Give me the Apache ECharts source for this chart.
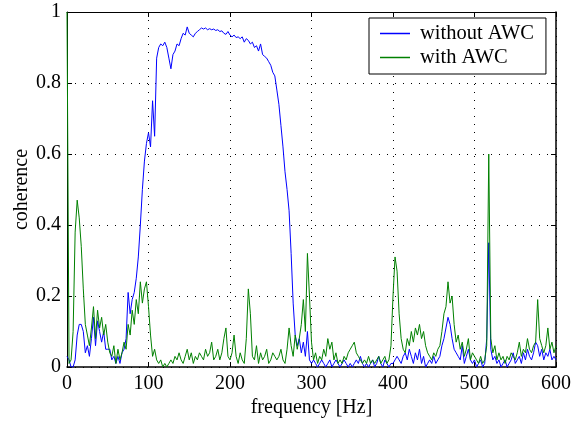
<!DOCTYPE html>
<html>
<head>
<meta charset="utf-8">
<script src="https://cdn.jsdelivr.net/npm/echarts@6/dist/echarts.min.js"></script>
<style>
  html, body { margin: 0; padding: 0; background: #fff; }
  #chart { width: 576px; height: 421px; }
</style>
</head>
<body>
<div id="chart"></div>
<script>
// Coherence spectra sampled every 2.5 Hz from 0 to 600 Hz
const STEP = 2.5;
const xTicks = [0, 100, 200, 300, 400, 500, 600];
const yTicks = [0, 0.2, 0.4, 0.6, 0.8, 1];
const seriesNames = ['without AWC', 'with AWC'];

// without AWC (one row = 25 Hz)
const withoutAWC = [
  0.03, 0.02, 0.00, 0.00, 0.02, 0.09, 0.12, 0.12, 0.10, 0.04,
  0.06, 0.03, 0.08, 0.14, 0.06, 0.13, 0.10, 0.07, 0.10, 0.05,
  0.05, 0.05, 0.02, 0.03, 0.01, 0.03, 0.01, 0.04, 0.05, 0.08,
  0.21, 0.15, 0.19, 0.21, 0.25, 0.31, 0.40, 0.50, 0.58, 0.63,
  0.66, 0.62, 0.75, 0.65, 0.87, 0.90, 0.91, 0.905, 0.915, 0.90,
  0.87, 0.84, 0.88, 0.89, 0.91, 0.905, 0.925, 0.94, 0.935, 0.958,
  0.94, 0.935, 0.93, 0.94, 0.945, 0.95, 0.955, 0.952, 0.955, 0.95,
  0.953, 0.95, 0.952, 0.948, 0.95, 0.945, 0.947, 0.94, 0.937, 0.945,
  0.935, 0.93, 0.935, 0.928, 0.93, 0.925, 0.93, 0.915, 0.925, 0.92,
  0.91, 0.915, 0.90, 0.905, 0.89, 0.91, 0.88, 0.875, 0.87, 0.86,
  0.85, 0.83, 0.82, 0.78, 0.74, 0.68, 0.62, 0.55, 0.50, 0.44,
  0.32, 0.18, 0.09, 0.06, 0.08, 0.04, 0.07, 0.03, 0.10, 0.02,
  0.01, 0.02, 0.01, 0.00, 0.01, 0.02, 0.01, 0.00, 0.01, 0.02,
  0.00, 0.01, 0.02, 0.01, 0.00, 0.01, 0.02, 0.01, 0.00, 0.01,
  0.00, 0.01, 0.02, 0.01, 0.03, 0.01, 0.00, 0.01, 0.00, 0.01,
  0.02, 0.00, 0.01, 0.03, 0.01, 0.00, 0.02, 0.01, 0.00, 0.01,
  0.01, 0.02, 0.03, 0.02, 0.01, 0.03, 0.04, 0.02, 0.05, 0.03,
  0.01, 0.04, 0.02, 0.05, 0.01, 0.03, 0.00, 0.01, 0.02, 0.01,
  0.03, 0.01, 0.02, 0.03, 0.06, 0.08, 0.11, 0.14, 0.12, 0.08,
  0.05, 0.04, 0.03, 0.02, 0.06, 0.01, 0.03, 0.05, 0.02, 0.01,
  0.02, 0.00, 0.01, 0.02, 0.00, 0.01, 0.08, 0.35, 0.05, 0.02,
  0.03, 0.01, 0.02, 0.00, 0.01, 0.02, 0.00, 0.01, 0.02, 0.04,
  0.01, 0.02, 0.03, 0.01, 0.04, 0.02, 0.05, 0.03, 0.02, 0.04,
  0.07, 0.06, 0.03, 0.05, 0.02, 0.04, 0.03, 0.05, 0.02, 0.03,
  0.02
];

// with AWC (one row = 25 Hz)
const withAWC = [
  1.00, 0.01, 0.02, 0.10, 0.38, 0.47, 0.42, 0.34, 0.22, 0.12,
  0.09, 0.06, 0.11, 0.17, 0.08, 0.16, 0.11, 0.14, 0.09, 0.12,
  0.07, 0.04, 0.03, 0.06, 0.01, 0.05, 0.02, 0.04, 0.07, 0.05,
  0.12, 0.09, 0.16, 0.12, 0.19, 0.15, 0.24, 0.18, 0.22, 0.24,
  0.17, 0.09, 0.03, 0.05, 0.02, 0.01, 0.02, 0.00, 0.01, 0.00,
  0.01, 0.02, 0.01, 0.03, 0.02, 0.04, 0.02, 0.01, 0.03, 0.05,
  0.02, 0.04, 0.01, 0.03, 0.02, 0.04, 0.03, 0.02, 0.05, 0.03,
  0.04, 0.07, 0.02, 0.03, 0.05, 0.02, 0.04, 0.08, 0.11, 0.03,
  0.02, 0.04, 0.09, 0.03, 0.01, 0.04, 0.02, 0.01, 0.08, 0.22,
  0.15, 0.03, 0.02, 0.06, 0.01, 0.04, 0.02, 0.03, 0.05, 0.01,
  0.02, 0.04, 0.03, 0.02, 0.03, 0.05, 0.02, 0.01, 0.05, 0.11,
  0.06, 0.03, 0.09, 0.05, 0.08, 0.12, 0.19, 0.10, 0.32, 0.20,
  0.07, 0.02, 0.04, 0.01, 0.03, 0.02, 0.05, 0.03, 0.08, 0.05,
  0.07, 0.02, 0.04, 0.01, 0.02, 0.01, 0.03, 0.02, 0.04, 0.05,
  0.06, 0.07, 0.04, 0.03, 0.02, 0.01, 0.02, 0.01, 0.03, 0.01,
  0.02, 0.01, 0.02, 0.03, 0.01, 0.02, 0.03, 0.01, 0.02, 0.06,
  0.20, 0.31, 0.27, 0.15, 0.08, 0.05, 0.04, 0.08, 0.06, 0.10,
  0.07, 0.11, 0.09, 0.12, 0.08, 0.10, 0.06, 0.04, 0.03, 0.02,
  0.04, 0.03, 0.05, 0.06, 0.10, 0.15, 0.17, 0.24, 0.18, 0.20,
  0.12, 0.07, 0.09, 0.05, 0.07, 0.03, 0.05, 0.08, 0.02, 0.04,
  0.03, 0.02, 0.01, 0.03, 0.01, 0.02, 0.06, 0.60, 0.08, 0.04,
  0.06, 0.02, 0.04, 0.02, 0.03, 0.01, 0.03, 0.02, 0.04, 0.03,
  0.02, 0.04, 0.07, 0.03, 0.05, 0.04, 0.08, 0.05, 0.04, 0.06,
  0.07, 0.19, 0.08, 0.06, 0.04, 0.06, 0.11, 0.05, 0.07, 0.04,
  0.06
];

const pairs = (vals) => vals.map((v, i) => [i * STEP, v]);

const FONT = 'Liberation Serif';
const tickCommon = { show: true, inside: true, length: 5, lineStyle: { color: '#000', width: 1 } };
const gridLine = { show: true, lineStyle: { color: '#000', width: 1, type: [1, 7] } };

const chart = echarts.init(document.getElementById('chart'), null, { renderer: 'canvas' });
chart.setOption({
  animation: false,
  backgroundColor: '#fff',
  grid: { left: 67, right: 20, top: 12, bottom: 54, show: false, outerBoundsMode: 'none', containLabel: false },
  legend: {
    data: seriesNames,
    orient: 'vertical',
    left: 369,
    top: 18,
    backgroundColor: '#fff',
    borderColor: '#000',
    borderWidth: 1,
    borderRadius: 0,
    padding: [5, 12, 6, 11],
    itemGap: 3,
    itemWidth: 30,
    itemHeight: 1.5,
    icon: 'rect',
    textStyle: { fontFamily: FONT, fontSize: 20.5, color: '#000', padding: [0, 0, 0, 5] }
  },
  xAxis: [
    {
      type: 'value', min: xTicks[0], max: xTicks[xTicks.length - 1], interval: 100,
      name: 'frequency [Hz]', nameLocation: 'middle', nameGap: 31, nameMoveOverlap: false,
      nameTextStyle: { fontFamily: FONT, fontSize: 20, color: '#000' },
      axisLine: { show: true, onZero: false, lineStyle: { color: '#000', width: 1.5 } },
      axisTick: tickCommon,
      axisLabel: { fontFamily: FONT, fontSize: 20, color: '#000', margin: 7 },
      splitLine: gridLine
    },
    {
      type: 'value', position: 'top', min: xTicks[0], max: xTicks[xTicks.length - 1], interval: 100,
      axisLine: { show: true, onZero: false, lineStyle: { color: '#000', width: 1 } },
      axisTick: tickCommon,
      axisLabel: { show: false },
      splitLine: { show: false }
    }
  ],
  yAxis: [
    {
      type: 'value', min: yTicks[0], max: yTicks[yTicks.length - 1], interval: 0.2,
      name: 'coherence', nameLocation: 'middle', nameGap: 35, nameMoveOverlap: false,
      nameTextStyle: { fontFamily: FONT, fontSize: 20, color: '#000' },
      axisLine: { show: true, onZero: false, lineStyle: { color: '#000', width: 1 } },
      axisTick: tickCommon,
      axisLabel: { fontFamily: FONT, fontSize: 20, color: '#000', margin: 6 },
      splitLine: gridLine
    },
    {
      type: 'value', position: 'right', min: yTicks[0], max: yTicks[yTicks.length - 1], interval: 0.2,
      axisLine: { show: true, onZero: false, lineStyle: { color: '#000', width: 1.5 } },
      axisTick: tickCommon,
      axisLabel: { show: false },
      splitLine: { show: false }
    }
  ],
  series: [
    {
      name: seriesNames[0], type: 'line', data: pairs(withoutAWC),
      symbol: 'none', lineStyle: { color: '#0000ff', width: 1 }, itemStyle: { color: '#0000ff' },
      z: 3
    },
    {
      name: seriesNames[1], type: 'line', data: pairs(withAWC),
      symbol: 'none', lineStyle: { color: '#008000', width: 1 }, itemStyle: { color: '#008000' },
      z: 4
    }
  ]
});
</script>
</body>
</html>
